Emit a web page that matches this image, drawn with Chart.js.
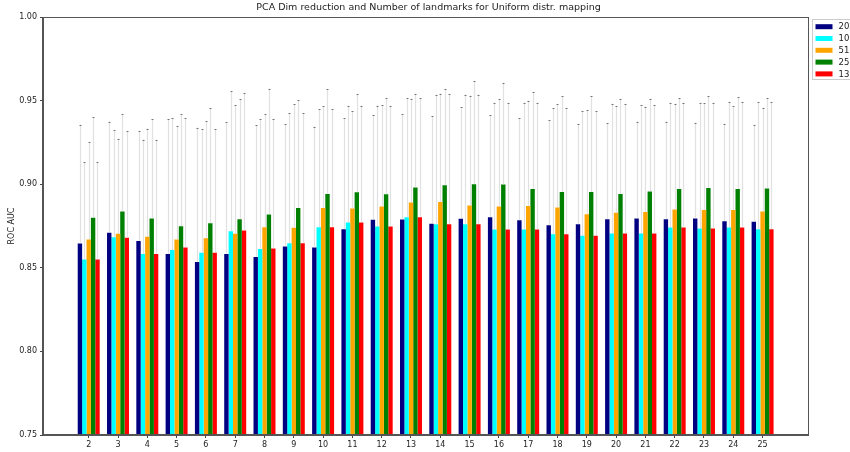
<!DOCTYPE html>
<html>
<head>
<meta charset="utf-8">
<style>
  html, body { margin: 0; padding: 0; background: #fff; overflow: hidden; }
  #wrap { width: 850px; height: 452px; }
</style>
</head>
<body>
<div id="wrap"><canvas id="chart" width="850" height="452"></canvas></div>
<script src="https://cdn.jsdelivr.net/npm/chart.js"></script>
<script>
  // number of PCA dims on the x axis
  const dims = [2, 3, 4, 5, 6, 7, 8, 9, 10, 11, 12, 13, 14, 15, 16, 17, 18, 19, 20, 21, 22, 23, 24, 25];

  // mean ROC AUC per number of landmarks
  const auc202 = [0.8646, 0.871, 0.866, 0.8582, 0.8534, 0.8582, 0.8564, 0.8628, 0.8622, 0.8731, 0.8787, 0.8789, 0.8763, 0.8793, 0.8803, 0.8785, 0.8755, 0.8761, 0.8791, 0.8795, 0.8791, 0.8795, 0.8779, 0.8775];
  const auc101 = [0.855, 0.8683, 0.8583, 0.8607, 0.859, 0.8719, 0.8613, 0.8647, 0.8743, 0.8771, 0.8747, 0.8803, 0.876, 0.8761, 0.8729, 0.8729, 0.8701, 0.8691, 0.8705, 0.8705, 0.8741, 0.8735, 0.8741, 0.8731];
  const auc51 = [0.867, 0.8703, 0.8685, 0.867, 0.8677, 0.8703, 0.8743, 0.8739, 0.8858, 0.8855, 0.8867, 0.8891, 0.8894, 0.8873, 0.8867, 0.8869, 0.8861, 0.8821, 0.8829, 0.8833, 0.8849, 0.8845, 0.8845, 0.8837];
  const auc25 = [0.88, 0.8837, 0.8795, 0.8749, 0.8767, 0.8791, 0.8819, 0.8857, 0.8942, 0.8952, 0.894, 0.898, 0.8994, 0.9, 0.8998, 0.8972, 0.8954, 0.8954, 0.8942, 0.8956, 0.8972, 0.8978, 0.8972, 0.8974];
  const auc13 = [0.855, 0.868, 0.8583, 0.8622, 0.859, 0.8723, 0.8615, 0.8647, 0.8743, 0.8771, 0.8747, 0.8803, 0.876, 0.8761, 0.8729, 0.8729, 0.8701, 0.8691, 0.8705, 0.8705, 0.8741, 0.8735, 0.8741, 0.8731];

  // top of the error bar (mean + err)
  const top202 = [0.9357, 0.9375, 0.9321, 0.9389, 0.9339, 0.9371, 0.9353, 0.9359, 0.9345, 0.9393, 0.9416, 0.942, 0.9408, 0.946, 0.9411, 0.9394, 0.9383, 0.9363, 0.9367, 0.9375, 0.9375, 0.9369, 0.9363, 0.9357];
  const top101 = [0.913, 0.9323, 0.9267, 0.9397, 0.9329, 0.9558, 0.9389, 0.9426, 0.9448, 0.947, 0.947, 0.9514, 0.9536, 0.9536, 0.9488, 0.9488, 0.9454, 0.9436, 0.9482, 0.9474, 0.9488, 0.9488, 0.9494, 0.949];
  const top51 = [0.925, 0.9273, 0.9333, 0.9349, 0.9377, 0.9474, 0.9418, 0.9478, 0.9466, 0.9435, 0.9474, 0.9512, 0.9542, 0.953, 0.9512, 0.95, 0.948, 0.9444, 0.9466, 0.9464, 0.9482, 0.9484, 0.9468, 0.9458];
  const top25 = [0.94, 0.942, 0.9387, 0.9418, 0.9456, 0.951, 0.9572, 0.9502, 0.9568, 0.954, 0.9516, 0.9542, 0.9568, 0.9617, 0.9608, 0.9554, 0.9526, 0.9526, 0.9512, 0.9512, 0.9516, 0.9528, 0.952, 0.9514];
  const top13 = [0.913, 0.932, 0.9267, 0.9393, 0.9329, 0.9546, 0.9389, 0.9426, 0.9448, 0.947, 0.947, 0.9514, 0.9538, 0.9536, 0.9488, 0.9488, 0.9454, 0.9438, 0.9482, 0.9474, 0.9488, 0.9488, 0.9494, 0.949];

  const yTicks = [0.75, 0.8, 0.85, 0.9, 0.95, 1.0];

  const FONT = '"DejaVu Sans", sans-serif';

  function series(label, color, vals, tops) {
    return {
      label: label,
      backgroundColor: color,
      borderWidth: 0,
      data: dims.map((d, i) => ({ x: d, y: vals[i] })),
      errTop: tops,
    };
  }

  // thin grey error bars with a small cap
  const errorBars = {
    id: "errorBars",
    afterDatasetsDraw(chart) {
      const ctx = chart.ctx;
      const y = chart.scales.y;
      ctx.save();
      chart.data.datasets.forEach((ds, di) => {
        const meta = chart.getDatasetMeta(di);
        meta.data.forEach((bar, i) => {
          const x = Math.round(bar.x) + 0.5;
          const y0 = y.getPixelForValue(ds.data[i].y);
          const y1 = y.getPixelForValue(ds.errTop[i]);
          ctx.strokeStyle = "rgba(200,200,200,0.55)";
          ctx.lineWidth = 1.2;
          ctx.beginPath();
          ctx.moveTo(x, y0);
          ctx.lineTo(x, y1);
          ctx.stroke();
          ctx.strokeStyle = "rgba(90,90,90,0.8)";
          ctx.lineWidth = 1;
          ctx.beginPath();
          ctx.moveTo(x - 1, Math.round(y1) + 0.5);
          ctx.lineTo(x + 1, Math.round(y1) + 0.5);
          ctx.stroke();
        });
      });
      ctx.restore();
    },
  };

  // frame, title and the legend that sits outside the axes
  const decor = {
    id: "decor",
    afterDraw(chart) {
      const ctx = chart.ctx;
      const a = chart.chartArea;
      ctx.save();
      ctx.strokeStyle = "#555";
      ctx.lineWidth = 1;
      ctx.strokeRect(Math.round(a.left) - 0.5, Math.round(a.top) + 0.5, Math.round(a.right - a.left) + 1, Math.round(a.bottom - a.top) - 1);

      ctx.fillStyle = "#222";
      ctx.font = "9.5px " + FONT;
      ctx.textAlign = "center";
      ctx.textBaseline = "middle";
      ctx.fillText("PCA Dim reduction and Number of landmarks for Uniform distr. mapping", (a.left + a.right) / 2 + 3, 8);

      const lx = a.right + 4.5, ly = 19.5;
      ctx.fillStyle = "#fff";
      ctx.strokeStyle = "#ccc";
      ctx.fillRect(lx, ly, 60, 60);
      ctx.strokeRect(lx, ly, 60, 60);
      ctx.font = "8.5px " + FONT;
      ctx.textAlign = "left";
      chart.data.datasets.forEach((ds, i) => {
        const ry = 26.7 + i * 11.8;
        ctx.fillStyle = ds.backgroundColor;
        ctx.fillRect(lx + 3, ry - 2.5, 17, 5);
        ctx.fillStyle = "#222";
        ctx.fillText(ds.label, lx + 26, ry + 0.5);
      });
      ctx.restore();
    },
  };

  new Chart(document.getElementById("chart"), {
    type: "bar",
    data: {
      datasets: [
        series("202", "#000080", auc202, top202),
        series("101", "#00ffff", auc101, top101),
        series("51", "#ffa500", auc51, top51),
        series("25", "#008000", auc25, top25),
        series("13", "#ff0000", auc13, top13),
      ],
    },
    options: {
      responsive: false,
      animation: false,
      devicePixelRatio: 1,
      layout: { padding: { top: 17, right: 42, left: 0, bottom: 0 } },
      datasets: { bar: { categoryPercentage: 0.75, barPercentage: 1.0 } },
      plugins: { legend: { display: false }, tooltip: { enabled: false } },
      scales: {
        x: {
          type: "linear",
          offset: false,
          min: 0.44,
          max: 26.55,
          afterBuildTicks: (s) => { s.ticks = dims.map((v) => ({ value: v })); },
          afterFit: (s) => { s.height = 17; },
          grid: { offset: false, drawOnChartArea: false, drawTicks: true, tickLength: 3, color: "#444" },
          border: { color: "#555" },
          ticks: { font: { family: FONT, size: 8 }, color: "#222", padding: 2, maxRotation: 0, autoSkip: false, callback: (v) => String(v) },
        },
        y: {
          min: 0.75,
          max: 1.0,
          afterBuildTicks: (s) => { s.ticks = yTicks.map((v) => ({ value: v })); },
          afterFit: (s) => { s.width = 43; },
          grid: { drawOnChartArea: false, drawTicks: true, tickLength: 3, color: "#444" },
          border: { color: "#555" },
          ticks: { font: { family: FONT, size: 8 }, color: "#222", padding: 3, callback: (v) => v.toFixed(2) },
          title: { display: true, text: "ROC AUC", font: { family: FONT, size: 8 }, color: "#222", padding: { top: 7, bottom: 0 } },
        },
      },
    },
    plugins: [errorBars, decor],
  });
</script>
</body>
</html>
